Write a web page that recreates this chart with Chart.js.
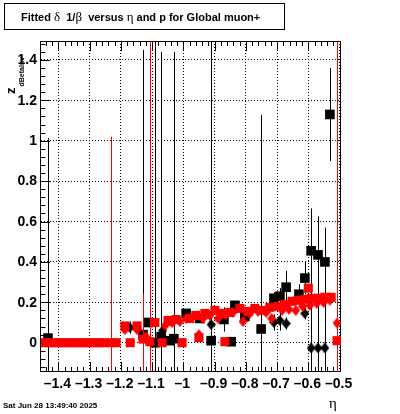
<!DOCTYPE html>
<html>
<head>
<meta charset="utf-8">
<script src="https://cdn.jsdelivr.net/npm/chart.js@4.4.1/dist/chart.umd.min.js"></script>
<style>
  html, body { margin: 0; padding: 0; background: #fff; overflow: hidden; }
  canvas { display: block; }
</style>
</head>
<body>
<canvas id="c" width="400" height="414"></canvas>
<script>
// axis ticks
const xTicks = [-1.4, -1.3, -1.2, -1.1, -1.0, -0.9, -0.8, -0.7, -0.6, -0.5];
const xTickLabels = ['\u20131.4', '\u20131.3', '\u20131.2', '\u20131.1', '\u20131', '\u20130.9', '\u20130.8', '\u20130.7', '\u20130.6', '\u20130.5'];
const yTicks = [0, 0.2, 0.4, 0.6, 0.8, 1.0, 1.2, 1.4];
const yTickLabels = ['0', '0.2', '0.4', '0.6', '0.8', '1', '1.2', '1.4'];

// black squares
const bsEta = [-1.433, -1.129, -1.113, -1.091, -1.071, -1.043, -1.030, -0.991, -0.947, -0.911, -0.870, -0.847, -0.835, -0.803, -0.751, -0.710, -0.691, -0.671, -0.630, -0.611, -0.591, -0.569, -0.547, -0.531];
const bsZ   = [0.023, 0.04, 0.10, 0.0, 0.03, 0.01, 0.02, 0.145, 0.12, 0.01, 0.115, 0.005, 0.185, 0.13, 0.068, 0.22, 0.23, 0.275, 0.24, 0.32, 0.455, 0.435, 0.40, 1.13];
const bsErr = [0.99, 1.41, 0.02, 1.6, 1.41, 0.01, 1.42, 0.02, 0.02, 1.6, 0.06, 0.01, 0.02, 0.03, 1.06, 0.03, 0.04, 0.08, 0.05, 0.08, 0.21, 0.19, 0.17, 0.23];

// black diamonds
const bdEta = [-1.171, -1.066, -0.911, -0.710, -0.691, -0.671, -0.611, -0.591, -0.569, -0.547];
const bdZ   = [0.075, 0.06, 0.09, 0.10, 0.11, 0.095, 0.145, -0.026, -0.026, -0.026];
const bdErr = [0.03, 0.02, 0.03, 0.04, 0.05, 0.03, 0.03, 0.35, 0.32, 0.30];

// red squares
const rsEta = [-1.445, -1.429, -1.413, -1.397, -1.381, -1.365, -1.349, -1.333, -1.317, -1.301, -1.285, -1.269, -1.253, -1.231, -1.215,
  -1.187, -1.170, -1.148, -1.129, -1.107, -1.091, -1.068, -1.049, -1.023, -1.004, -0.979, -0.960, -0.950, -0.931, -0.899, -0.876, -0.867,
  -0.851, -0.819, -0.793, -0.771, -0.745, -0.723, -0.697, -0.675, -0.652, -0.633, -0.610, -0.600, -0.591, -0.569, -0.547, -0.527, -0.508];
const rsZ = [0, 0, 0, 0, 0, 0, 0, 0, 0, 0, 0, 0, 0, 0, 0,
  0.083, 0.0, 0.083, 0.018, 0.005, 0.10, 0.0, 0.11, 0.115, 0.0, 0.12, 0.135, 0.025, 0.145, 0.16, 0.145, 0.005,
  0.15, 0.17, 0.155, 0.17, 0.16, 0.175, 0.18, 0.19, 0.205, 0.21, 0.215, 0.27, 0.22, 0.22, 0.225, 0.225, 0.01];
const rsErr = [0, 0, 0, 0, 0, 0, 0, 0, 0, 0, 0, 0, 0, 1.02, 0,
  0, 0, 0, 0.225, 1.6, 0, 0, 0, 0, 0, 0, 0, 0, 0, 0, 0, 0,
  0, 0, 0, 0, 0, 0, 0, 0, 0, 0, 0, 0, 0, 0, 0, 0, 2.0];

// red diamonds
const rdEta = [-1.187, -1.148, -1.120, -1.058, -1.036, -1.011, -0.991, -0.950, -0.937, -0.915, -0.889, -0.863, -0.841, -0.809,
  -0.787, -0.761, -0.735, -0.717, -0.684, -0.662, -0.640, -0.618, -0.595, -0.573, -0.551, -0.531, -0.508];
const rdZ = [0.065, 0.065, 0.03, 0.085, 0.10, 0.105, 0.12, 0.04, 0.12, 0.135, 0.12, 0.14, 0.15, 0.105,
  0.145, 0.155, 0.15, 0.12, 0.16, 0.165, 0.16, 0.18, 0.185, 0.195, 0.20, 0.21, 0.097];
const rdErr = [0, 0, 0, 0, 0, 0, 0, 0, 0, 0, 0, 0, 0, 0,
  0, 0, 0, 0, 0, 0, 0, 0, 0, 0, 0, 0, 2.0];

const BOLD = '"Liberation Sans", Arial, sans-serif';
const GREEK = '"Liberation Serif", "DejaVu Serif", serif';

// ROOT style diamond marker (narrow)
function diamond(color) {
  const c = document.createElement('canvas');
  c.width = 9; c.height = 11;
  const g = c.getContext('2d');
  g.fillStyle = color;
  g.beginPath();
  g.moveTo(4.5, 0); g.lineTo(9, 5.5); g.lineTo(4.5, 11); g.lineTo(0, 5.5);
  g.closePath(); g.fill();
  return c;
}

function pts(xs, ys) { return xs.map((v, i) => ({ x: v, y: ys[i] })); }

// error bars, drawn right before each dataset's markers
const errorBars = {
  id: 'errorBars',
  beforeDatasetDraw(chart, args) {
    const ds = chart.data.datasets[args.index];
    if (!ds.err) return;
    const { ctx, chartArea: a, scales: { x, y } } = chart;
    ctx.save();
    ctx.beginPath();
    ctx.rect(a.left, a.top, a.right - a.left, a.bottom - a.top);
    ctx.clip();
    ctx.strokeStyle = ds.lineColor;
    ctx.lineWidth = 1;
    ds.data.forEach((p, i) => {
      const e = ds.err[i];
      if (!e) return;
      const px = Math.round(x.getPixelForValue(p.x)) + 0.5;
      ctx.beginPath();
      ctx.moveTo(px, y.getPixelForValue(p.y + e));
      ctx.lineTo(px, y.getPixelForValue(p.y - e));
      ctx.stroke();
    });
    ctx.restore();
  }
};

// frame + ROOT-like inner ticks
const frame = {
  id: 'frame',
  beforeDatasetsDraw(chart) {
    const { ctx, chartArea: a, scales: { x, y } } = chart;
    ctx.save();
    ctx.strokeStyle = '#000';
    ctx.lineWidth = 1;
    ctx.strokeRect(a.left - 0.5, a.top + 0.5, a.right - a.left, a.bottom - a.top - 1);
    ctx.beginPath();
    for (let k = 0; k <= 60; k++) {
      const v = xTicks[0] - 0.1 + k * 0.02;
      if (v < x.min || v > x.max) continue;
      const major = Math.abs(v * 10 - Math.round(v * 10)) < 1e-6;
      const len = major ? 10 : 5;
      const px = Math.round(x.getPixelForValue(v)) + 0.5;
      ctx.moveTo(px, a.bottom); ctx.lineTo(px, a.bottom - len);
      ctx.moveTo(px, a.top); ctx.lineTo(px, a.top + len);
    }
    for (let k = 0; k <= 50; k++) {
      const v = -0.2 + k * 0.04;
      if (v < y.min || v > y.max) continue;
      const major = Math.abs(v * 5 - Math.round(v * 5)) < 1e-6;
      const len = major ? 9 : 4.5;
      const py = Math.round(y.getPixelForValue(v)) + 0.5;
      ctx.moveTo(a.left, py); ctx.lineTo(a.left + len, py);
    }
    ctx.stroke();
    ctx.restore();
  },
  afterDraw(chart) {
    const { ctx, chartArea: a, scales: { x, y } } = chart;
    ctx.save();
    ctx.fillStyle = '#000';

    // tick labels
    ctx.font = 'bold 14px ' + BOLD;
    ctx.textAlign = 'center';
    ctx.textBaseline = 'alphabetic';
    xTicks.forEach((v, i) => ctx.fillText(xTickLabels[i], x.getPixelForValue(v) - 1, 388));
    ctx.textAlign = 'right';
    ctx.textBaseline = 'middle';
    yTicks.forEach((v, i) => ctx.fillText(yTickLabels[i], 37, y.getPixelForValue(v) + 0.5));

    // title box
    ctx.fillStyle = '#fff';
    ctx.fillRect(4, 3, 281, 27);
    ctx.strokeStyle = '#000';
    ctx.lineWidth = 1;
    ctx.strokeRect(4.5, 3.5, 280, 26);
    ctx.fillStyle = '#000';
    ctx.textAlign = 'left';
    ctx.textBaseline = 'alphabetic';
    const parts = [['Fitted ', 0], ['\u03b4', 1], ['  1/', 0], ['\u03b2', 1], ['  versus ', 0], ['\u03b7', 1], [' and p for Global muon+', 0]];
    let tx = 21;
    parts.forEach(([s, g]) => {
      ctx.font = g ? '13px ' + GREEK : 'bold 11px ' + BOLD;
      ctx.fillText(s, tx, 21);
      tx += ctx.measureText(s).width;
    });

    // y axis title
    ctx.save();
    ctx.translate(15, 94);
    ctx.rotate(-Math.PI / 2);
    ctx.font = 'bold 13px ' + BOLD;
    ctx.fillText('z', 0, 0);
    const wz = ctx.measureText('z').width;
    ctx.font = 'bold 7px ' + BOLD;
    ctx.fillText('dBetaInv', wz + 1, 9);
    ctx.restore();

    // x axis title
    ctx.font = '15px ' + GREEK;
    ctx.textAlign = 'center';
    ctx.fillText('\u03b7', 333, 408);

    // date stamp
    ctx.font = 'bold 8px ' + BOLD;
    ctx.textAlign = 'left';
    ctx.fillText('Sat Jun 28 13:49:40 2025', 3, 408);
    ctx.restore();
  }
};

const ctx = document.getElementById('c').getContext('2d');
new Chart(ctx, {
  type: 'scatter',
  data: {
    datasets: [
      { label: 'red diamonds', data: pts(rdEta, rdZ), err: rdErr, lineColor: '#ff0000',
        pointStyle: diamond('#ff0000'), pointRadius: 5, backgroundColor: '#ff0000', borderWidth: 0 },
      { label: 'red squares', data: pts(rsEta, rsZ), err: rsErr, lineColor: '#ff0000',
        pointStyle: 'rect', pointRadius: 6.4, backgroundColor: '#ff0000', borderWidth: 0 },
      { label: 'black diamonds', data: pts(bdEta, bdZ), err: bdErr, lineColor: '#000000',
        pointStyle: diamond('#000000'), pointRadius: 5, backgroundColor: '#000000', borderWidth: 0 },
      { label: 'black squares', data: pts(bsEta, bsZ), err: bsErr, lineColor: '#000000',
        pointStyle: 'rect', pointRadius: 6.8, backgroundColor: '#000000', borderWidth: 0 }
    ]
  },
  options: {
    responsive: false,
    animation: false,
    events: [],
    layout: { padding: { left: 41, right: 59, top: 41, bottom: 42 } },
    plugins: { legend: { display: false }, tooltip: { enabled: false } },
    scales: {
      x: {
        type: 'linear', min: -1.4554, max: -0.4954,
        afterBuildTicks: s => { s.ticks = xTicks.map(v => ({ value: v })); },
        ticks: { display: false },
        grid: { color: '#000', lineWidth: 1, drawTicks: false },
        border: { display: false, dash: [1, 2] }
      },
      y: {
        type: 'linear', min: -0.145, max: 1.4936,
        afterBuildTicks: s => { s.ticks = yTicks.map(v => ({ value: v })); },
        ticks: { display: false },
        grid: { color: '#000', lineWidth: 1, drawTicks: false },
        border: { display: false, dash: [1, 2] }
      }
    }
  },
  plugins: [errorBars, frame]
});
</script>
</body>
</html>
